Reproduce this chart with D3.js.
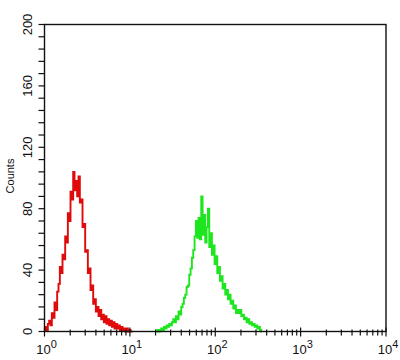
<!DOCTYPE html>
<html>
<head>
<meta charset="utf-8">
<script src="https://cdn.jsdelivr.net/npm/d3@7"></script>
<style>
html,body{margin:0;padding:0;background:#fff;}
svg{display:block;font-family:"Liberation Sans",Arial,sans-serif;}
</style>
</head>
<body>
<svg id="chart" width="400" height="360"></svg>
<script>
// Histogram: 256 log channels spanning 4 decades (10^0 .. 10^4)
const channelsPerDecade = 64;
const redStartChannel = 0;
const redCounts = [1,3,1,5,7,4,12,9,19,14,26,31,42,38,50,47,62,58,77,72,91,86,104,92,98,88,101,84,86,68,70,52,53,38,41,27,30,18,21,13,16,10,14,8,11,6,10,5,8,4,7,3,6,2,5,2,4,1,3,1,2,0,2,0,1,0,0];
const greenStartChannel = 84;
const greenCounts = [0,1,0,1,2,1,3,2,4,3,5,4,6,
  8,6,10,8,13,11,16,18,22,24,29,30,37,41,
  48,53,62,72,
  61,74,60,88,63,76,58,68,80,55,64,
  50,56,44,49,38,42,33,36,28,31,
  24,27,21,24,18,20,15,17,12,14,
  12,14,10,11,8,9,6,8,5,6,
  4,5,3,4,2,3,1,0];
const xTickExponents = [0,1,2,3,4];
const yTickValues = [0,40,80,120,160,200];
const yMinorStep = 8;
const yTitle = "Counts";

const svg = d3.select("#chart");
const margin = {left:44.5, right:14, top:24.5, bottom:28.5};
const W = 400, H = 360;
const x = d3.scaleLog().domain([1,10000]).range([margin.left, W - margin.right]);
const y = d3.scaleLinear().domain([0,200]).range([H - margin.bottom, margin.top]);

function series(start, counts){
  return counts.map((c,i)=>({v: Math.pow(10,(start+i)/channelsPerDecade), c}));
}
const line = d3.line().x(d=>x(d.v)).y(d=>y(d.c)).curve(d3.curveStep);

svg.append("path").datum(series(redStartChannel, redCounts))
  .attr("d", line).attr("fill","none").attr("stroke","#e00a0a").attr("stroke-width",1.9);
svg.append("path").datum(series(greenStartChannel, greenCounts))
  .attr("d", line).attr("fill","none").attr("stroke","#1ee61e").attr("stroke-width",1.9);

// frame
svg.append("rect").attr("x",x(1)).attr("y",y(200)).attr("width",x(10000)-x(1)).attr("height",y(0)-y(200))
  .attr("fill","none").attr("stroke","#111").attr("stroke-width",1.4);

// x ticks
const xMinor = [];
for (let e=0;e<4;e++) for (let m=2;m<=9;m++) xMinor.push(m*Math.pow(10,e));
const gx = svg.append("g");
gx.selectAll("line.minor").data(xMinor).join("line")
  .attr("x1",d=>x(d)).attr("x2",d=>x(d)).attr("y1",y(0)-2).attr("y2",y(0)+4)
  .attr("stroke","#111").attr("stroke-width",1.2);
gx.selectAll("line.major").data(xTickExponents).join("line")
  .attr("x1",d=>x(Math.pow(10,d))).attr("x2",d=>x(Math.pow(10,d))).attr("y1",y(0)-4).attr("y2",y(0)+5)
  .attr("stroke","#111").attr("stroke-width",1.2);
const xl = gx.selectAll("text").data(xTickExponents).join("text")
  .attr("x",d=>x(Math.pow(10,d))+2).attr("y",354)
  .attr("text-anchor","middle").attr("font-size",13).attr("fill","#111");
xl.append("tspan").text("10");
xl.append("tspan").attr("dy",-6).attr("font-size",11).text(d=>d);

// y ticks
const yMinor = d3.range(0,201,yMinorStep);
const gy = svg.append("g");
gy.selectAll("line").data(yMinor).join("line")
  .attr("x1",x(1)-6).attr("x2",x(1)).attr("y1",d=>y(d)).attr("y2",d=>y(d))
  .attr("stroke","#111").attr("stroke-width",1.2);
gy.selectAll("text").data(yTickValues).join("text")
  .attr("transform",d=>`translate(32,${y(d)}) rotate(-90)`)
  .attr("text-anchor","middle").attr("font-size",13).attr("fill","#111").text(d=>d);

svg.append("text").attr("transform",`translate(14,176) rotate(-90)`)
  .attr("text-anchor","middle").attr("font-size",11).attr("fill","#111").text(yTitle);
</script>
</body>
</html>
